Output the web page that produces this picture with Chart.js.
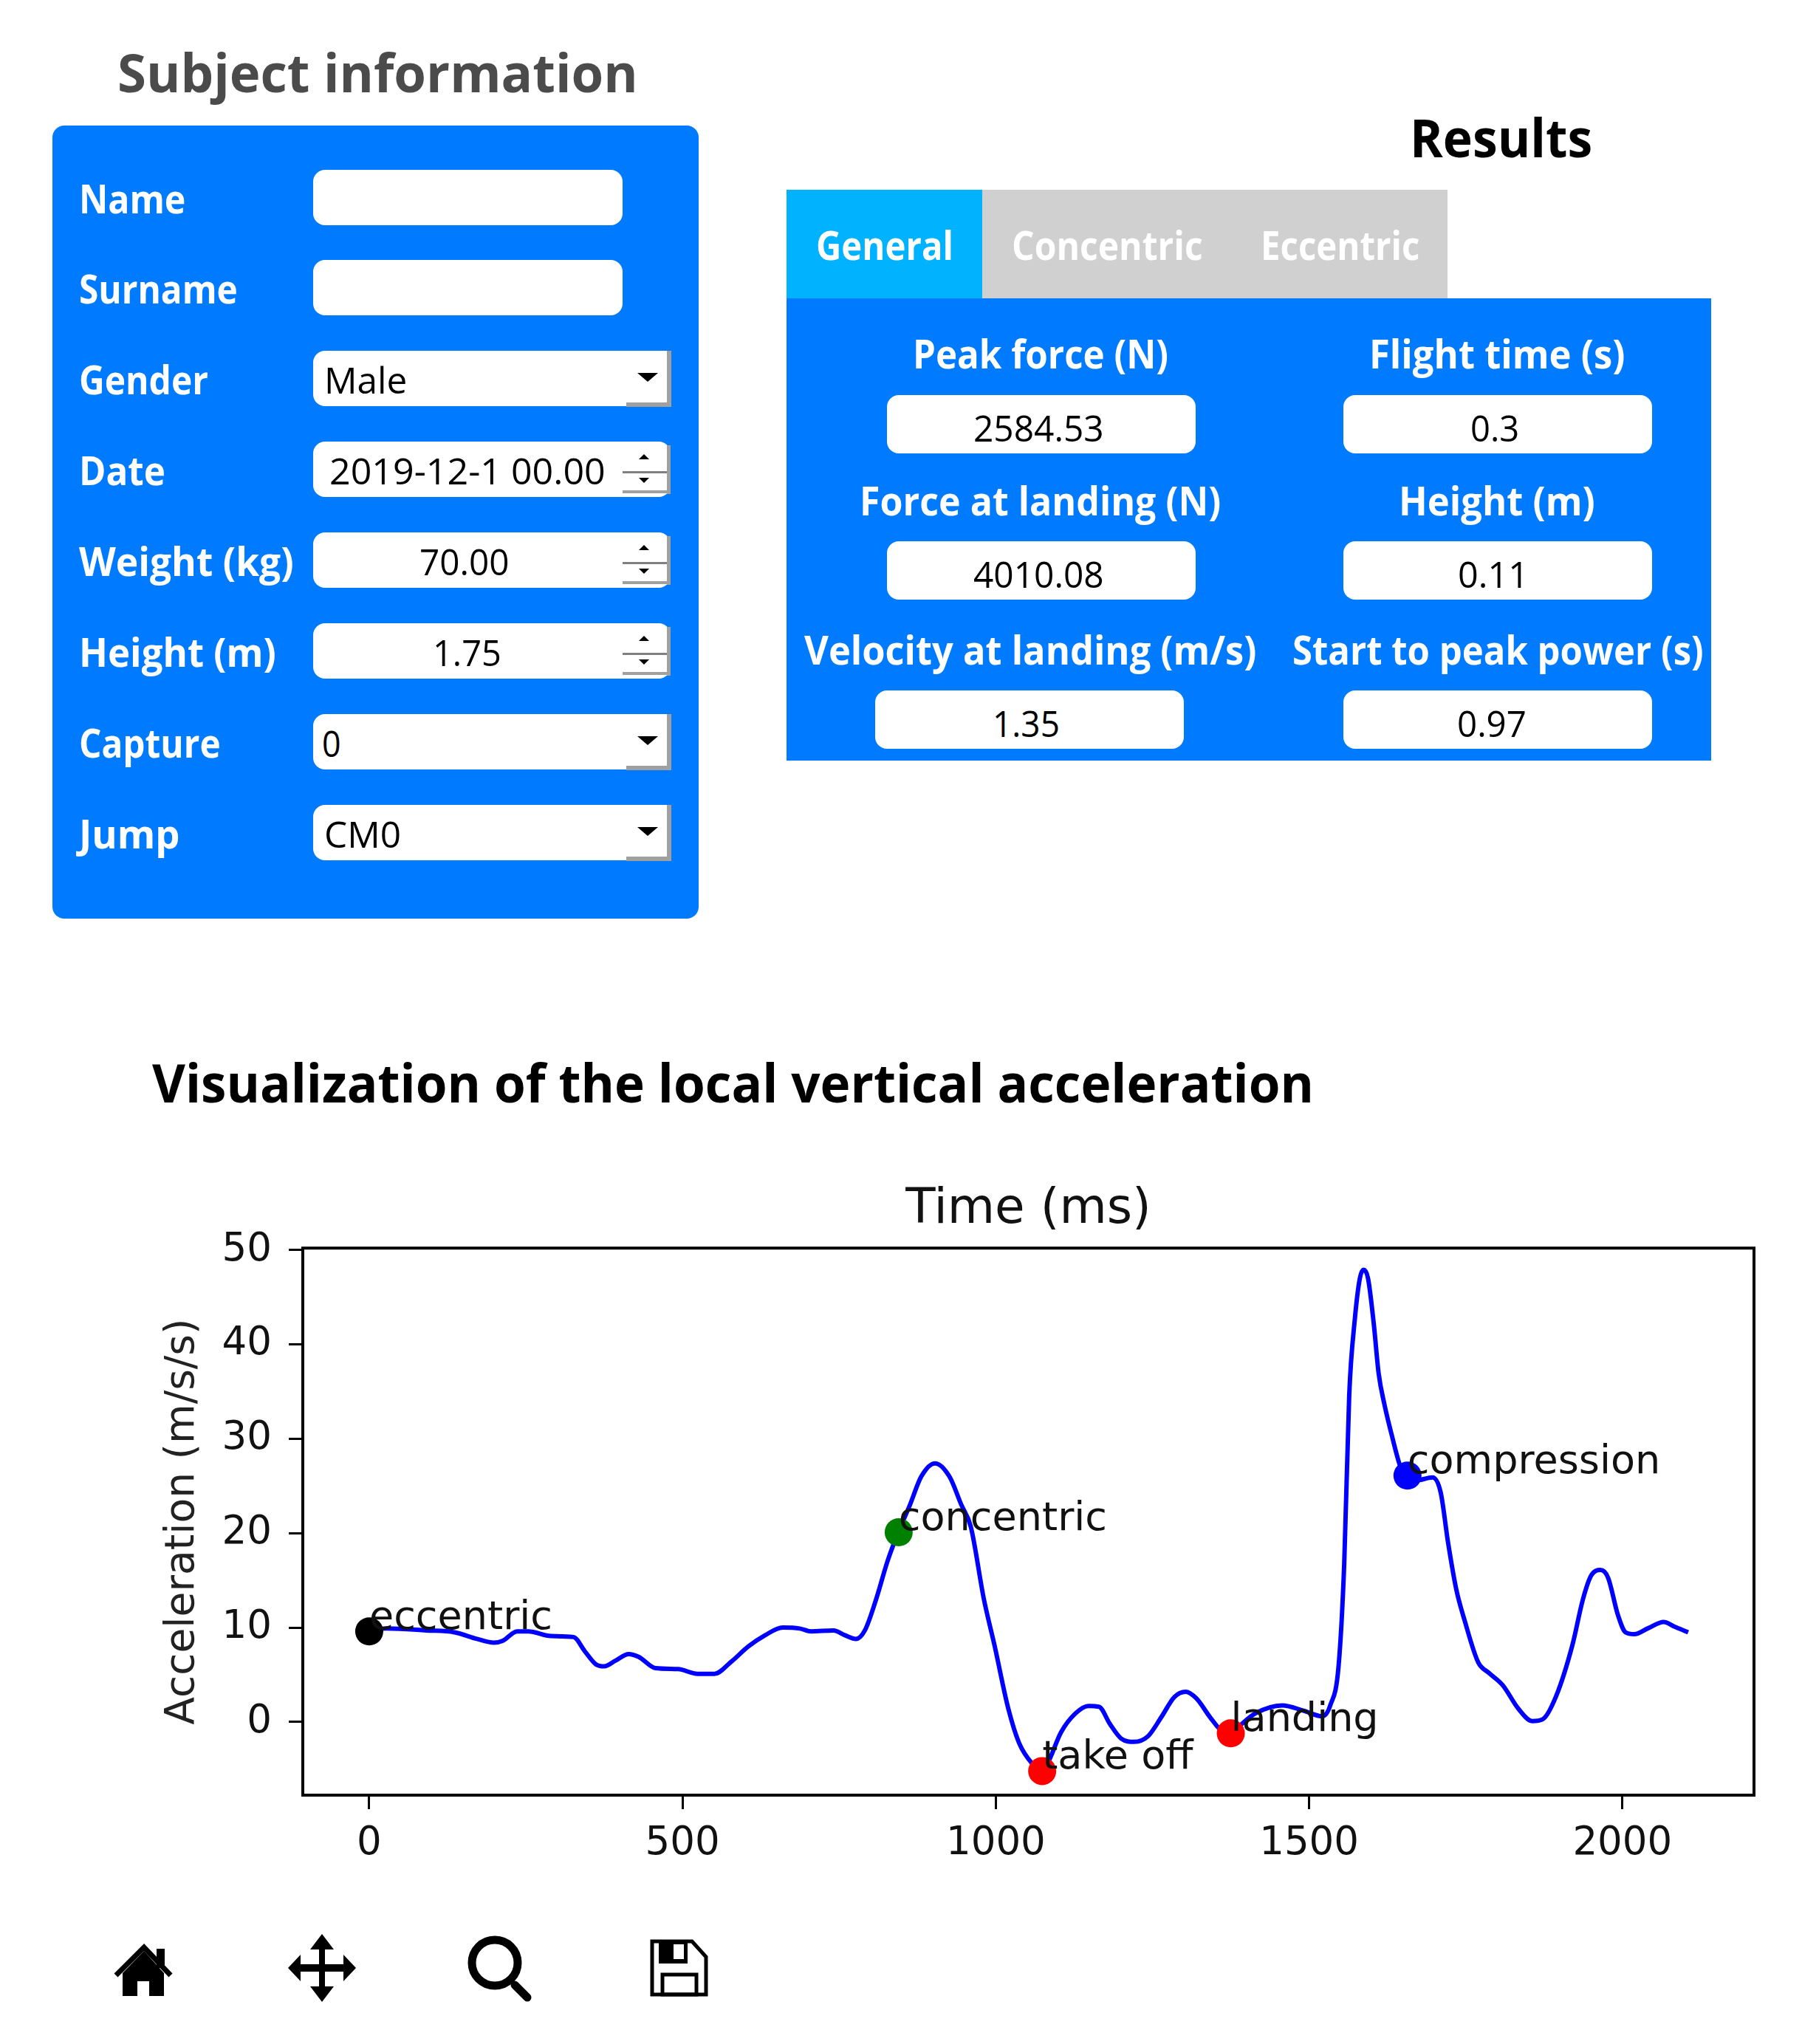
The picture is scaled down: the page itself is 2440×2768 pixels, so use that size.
<!DOCTYPE html>
<html>
<head>
<meta charset="utf-8">
<script src="https://cdn.jsdelivr.net/npm/chart.js@4/dist/chart.umd.min.js"></script>
<style>
  html, body { margin: 0; padding: 0; background: #fff; }
  #page { position: relative; width: 2440px; height: 2768px; overflow: hidden; }
  #deco { position: absolute; left: 0; top: 0; }
  #chartCanvas { position: absolute; left: 0; top: 1500px; }
  .txt { position: absolute; white-space: nowrap; line-height: 1; transform-origin: 0 50%; font-family: "Open Sans", sans-serif; }
</style>
</head>
<body>
<div id="page">
  <svg id="deco" width="2440" height="2768" viewBox="0 0 2440 2768"></svg>
  <canvas id="chartCanvas" width="2440" height="1080"></canvas>
</div>
<script>
// data
const time = [0, 28, 91, 136, 172, 199, 213, 236, 254, 290, 326, 344, 362, 375, 393, 414, 430, 457, 493, 524, 551, 578, 605, 632, 660, 687, 705, 741, 759, 777, 791, 809, 827, 845, 863, 881, 903, 926, 945, 960, 981, 998, 1020, 1037, 1058, 1074, 1084, 1104, 1127, 1148, 1165, 1182, 1200, 1221, 1243, 1264, 1285, 1303, 1320, 1342, 1359, 1375, 1389, 1414, 1457, 1491, 1521, 1534, 1547, 1556, 1564, 1573, 1581, 1587, 1594, 1603, 1611, 1620, 1633, 1646, 1657, 1671, 1697, 1710, 1722, 1735, 1748, 1770, 1787, 1809, 1834, 1856, 1873, 1894, 1920, 1937, 1950, 1965, 1977, 1993, 2005, 2019, 2040, 2066, 2083, 2105];
const acceleration = [9.7, 9.9, 9.7, 9.5, 8.8, 8.4, 8.6, 9.6, 9.6, 9.1, 9.0, 7.5, 6.1, 5.9, 6.5, 7.2, 6.9, 5.7, 5.6, 5.1, 5.1, 6.4, 8.0, 9.2, 10.0, 9.9, 9.6, 9.7, 9.2, 8.8, 9.7, 13.0, 17.0, 20.2, 23.0, 26.0, 27.4, 26.0, 23.0, 20.7, 13.0, 8.1, 1.4, -2.2, -4.4, -5.2, -4.2, -1.1, 0.9, 1.7, 1.6, -0.2, -1.75, -2.1, -1.5, 0.5, 2.65, 3.2, 2.5, 0.5, -0.85, -1.2, -0.4, 0.9, 1.75, 1.2, 0.6, 1.8, 5.9, 16.7, 34.6, 42.7, 47.0, 47.9, 47.0, 42.3, 36.9, 33.7, 30.1, 27.0, 26.1, 25.6, 25.9, 24.3, 18.9, 14.0, 10.8, 6.3, 5.2, 3.9, 1.4, 0.1, 0.3, 2.7, 8.1, 13.0, 15.5, 16.1, 15.3, 11.3, 9.5, 9.3, 9.9, 10.6, 10.1, 9.5];
const eventLabels = ['eccentric', 'concentric', 'take off', 'landing', 'compression'];
const eventTimes = [0, 845, 1074, 1375, 1657];
const eventValues = [9.6, 20.1, -5.2, -1.2, 26.1];
const eventColors = ['#000000', '#008000', '#ff0000', '#ff0000', '#0000ff'];
const xTickValues = [0, 500, 1000, 1500, 2000];
const yTickValues = [0, 10, 20, 30, 40, 50];

const subjectLabels = ['Name', 'Surname', 'Gender', 'Date', 'Weight (kg)', 'Height (m)', 'Capture', 'Jump'];
const subjectValues = ['', '', 'Male', '2019-12-1 00.00', '70.00', '1.75', '0', 'CM0'];
const resultLabels = ['Peak force (N)', 'Flight time (s)', 'Force at landing (N)', 'Height (m)', 'Velocity at landing (m/s)', 'Start to peak power (s)'];
const resultValues = ['2584.53', '0.3', '4010.08', '0.11', '1.35', '0.97'];
const tabNames = ['General', 'Concentric', 'Eccentric'];

// layout of the form, in page pixels
const subjectRowY = [230, 352, 475, 598, 721, 844, 967, 1090];
const subjectLabelW = [144, 215, 175, 117, 291, 267, 192, 137];
const subjectValueX = [0, 0, 439, 446, 568, 586, 436, 439];
const subjectValueW = [0, 0, 112, 374, 122, 93, 26, 104];
const subjectKind = ['plain', 'plain', 'combo', 'spin', 'spin', 'spin', 'combo', 'combo'];
const resultLabelX = [1236, 1854, 1164, 1894, 1089, 1750];
const resultLabelW = [346, 346, 489, 266, 612, 557];
const resultLabelY = [478, 478, 677, 677, 879, 879];
const resultBoxX = [1201, 1819, 1201, 1819, 1185, 1819];
const resultBoxY = [535, 535, 733, 733, 935, 935];
const resultValueX = [1318, 1991, 1318, 1974, 1344, 1973];
const resultValueW = [177, 66, 177, 96, 91, 94];
const tabTextX = [1105, 1370, 1707];
const tabTextW = [186, 259, 215];

const page = document.getElementById('page');
const deco = document.getElementById('deco');

function shape(tag, attrs) {
    const el = document.createElementNS('http://www.w3.org/2000/svg', tag);
    Object.keys(attrs).forEach(k => el.setAttribute(k, attrs[k]));
    deco.appendChild(el);
}

function box(x, y, w, h, fill, r) {
    shape('rect', { x: x, y: y, width: w, height: h, fill: fill, rx: r || 0 });
}

// text stretched to the measured width, the reference is not uniformly scaled
function label(text, x, yCenter, width, size, weight, color) {
    const el = document.createElement('div');
    el.className = 'txt';
    el.textContent = text;
    el.style.left = x + 'px';
    el.style.top = (yCenter - size / 2) + 'px';
    el.style.fontSize = size + 'px';
    el.style.fontWeight = weight;
    el.style.color = color;
    page.appendChild(el);
    el.style.transform = 'scaleX(' + (width / el.offsetWidth) + ')';
}

function drawSubjectPanel() {
    label('Subject information', 159, 97, 705, 72, 700, '#4b4b4b');
    box(71, 170, 875, 1074, '#007bff', 16);
    subjectLabels.forEach((name, i) => {
        const y = subjectRowY[i];
        label(name, 107, y + 38, subjectLabelW[i], 54, 700, '#ffffff');
        if (subjectKind[i] === 'plain') {
            box(424, y, 419, 75, '#ffffff', 16);
            return;
        }
        box(424, y, 484, 75, '#ffffff', 16);
        label(subjectValues[i], subjectValueX[i], y + 39, subjectValueW[i], 50, 400, '#000000');
        if (subjectKind[i] === 'combo') {
            box(903, y, 6, 75, '#a0a0a0');
            box(848, y + 70, 61, 6, '#a0a0a0');
            box(860, y, 43, 70, '#ffffff');
            shape('path', { d: `M863 ${y + 30}h28l-14 12z`, fill: '#000000' });
        } else {
            box(903, y + 5, 5, 66, '#a0a0a0');
            box(843, y + 40, 60, 3, '#808080');
            box(843, y + 66, 62, 4, '#a0a0a0');
            shape('path', { d: `M865 ${y + 24}h14l-7 -7z`, fill: '#000000' });
            shape('path', { d: `M865 ${y + 49}h14l-7 7z`, fill: '#000000' });
        }
    });
}

function drawResultsPanel() {
    label('Results', 1909, 185, 247, 72, 700, '#000000');
    box(1065, 257, 265, 147, '#00b2ff');
    box(1330, 257, 630, 147, '#d0d0d0');
    box(1065, 404, 1252, 626, '#007bff');
    tabNames.forEach((name, i) => label(name, tabTextX[i], 331, tabTextW[i], 54, 700, '#ffffff'));
    resultLabels.forEach((name, i) => {
        label(name, resultLabelX[i], resultLabelY[i], resultLabelW[i], 54, 700, '#ffffff');
        box(resultBoxX[i], resultBoxY[i], 418, 79, '#ffffff', 16);
        label(resultValues[i], resultValueX[i], resultBoxY[i] + 44, resultValueW[i], 50, 400, '#000000');
    });
}

function drawToolbar() {
    // home
    shape('path', { d: 'M166 2672L195 2642L222 2672V2703H202V2683H186V2703H166Z', fill: '#000' });
    shape('path', { d: 'M157 2675L195 2637L231 2675', fill: 'none', stroke: '#000', 'stroke-width': 7 });
    box(212, 2639, 11, 26, '#000');
    // pan
    box(432, 2635, 8, 60, '#000');
    box(405, 2660, 62, 10, '#000');
    shape('path', { d: 'M436 2619L452 2640H420Z M436 2711L452 2690H420Z M390 2665L407 2647V2683Z M482 2665L465 2647V2683Z', fill: '#000' });
    // zoom
    shape('circle', { cx: 670, cy: 2658, r: 31, fill: 'none', stroke: '#000', 'stroke-width': 11 });
    shape('path', { d: 'M697 2688L714 2705', stroke: '#000', 'stroke-width': 11, 'stroke-linecap': 'round' });
    // save
    shape('path', { d: 'M883 2629H937L956 2650V2701H883Z', fill: 'none', stroke: '#000', 'stroke-width': 5 });
    box(892, 2629, 39, 30, '#000');
    box(912, 2633, 14, 20, '#fff');
    shape('rect', { x: 897, y: 2674, width: 46, height: 27, fill: 'none', stroke: '#000', 'stroke-width': 5 });
}

drawSubjectPanel();
drawResultsPanel();
drawToolbar();
label('Visualization of the local vertical acceleration', 206, 1465, 1573, 72, 700, '#000000');

const tickFont = { family: '"DejaVu Sans"', size: 53 };

const plotFrame = {
    id: 'plotFrame',
    afterDatasetsDraw(chart) {
        const { ctx, chartArea: a, scales } = chart;
        ctx.save();
        ctx.strokeStyle = '#000';
        ctx.lineWidth = 4;
        ctx.strokeRect(a.left, a.top, a.right - a.left, a.bottom - a.top);
        // event names sit on the top right of their point, as the plot annotates them
        ctx.font = '54px "DejaVu Sans"';
        ctx.fillStyle = '#111';
        ctx.textBaseline = 'alphabetic';
        eventLabels.forEach((text, i) => {
            ctx.fillText(text, scales.x.getPixelForValue(eventTimes[i]), scales.y.getPixelForValue(eventValues[i]) - 3);
        });
        ctx.restore();
    }
};

new Chart(document.getElementById('chartCanvas').getContext('2d'), {
    type: 'scatter',
    data: {
        datasets: [{
            label: 'events',
            data: eventTimes.map((t, i) => ({ x: t, y: eventValues[i] })),
            pointRadius: 19,
            pointBackgroundColor: eventColors,
            pointBorderWidth: 0,
            order: 0
        }, {
            label: 'acceleration',
            data: time.map((t, i) => ({ x: t, y: acceleration[i] })),
            showLine: true,
            borderColor: '#0000ff',
            borderWidth: 6,
            pointRadius: 0,
            cubicInterpolationMode: 'monotone',
            order: 1
        }]
    },
    options: {
        responsive: false,
        animation: false,
        devicePixelRatio: 1,
        layout: { padding: { left: 0, right: 65, top: 0, bottom: 0 } },
        plugins: {
            legend: { display: false },
            tooltip: { enabled: false },
            title: {
                display: true,
                text: 'Time (ms)',
                color: '#111',
                fullSize: false,
                font: { family: '"DejaVu Sans"', size: 66, weight: 'normal', lineHeight: 1.2 },
                padding: { top: 99, bottom: 12 }
            }
        },
        scales: {
            x: {
                type: 'linear',
                min: -106,
                max: 2210,
                afterBuildTicks: axis => { axis.ticks = xTickValues.map(v => ({ value: v })); },
                afterFit: axis => { axis.height = 149; },
                border: { display: false },
                grid: { drawOnChartArea: false, tickLength: 19, tickColor: '#000', tickWidth: 3 },
                ticks: { color: '#111', font: tickFont, padding: 15, maxRotation: 0, autoSkip: false, callback: v => String(v) }
            },
            y: {
                min: -7.75,
                max: 50.2,
                afterBuildTicks: axis => { axis.ticks = yTickValues.map(v => ({ value: v })); },
                afterFit: axis => { axis.width = 410; },
                border: { display: false },
                grid: { drawOnChartArea: false, tickLength: 19, tickColor: '#000', tickWidth: 3 },
                ticks: { color: '#111', font: tickFont, padding: 23, autoSkip: false, callback: v => String(v) },
                title: {
                    display: true,
                    text: 'Acceleration (m/s/s)',
                    color: '#222',
                    font: { family: '"DejaVu Sans"', size: 55, lineHeight: 1.2 },
                    padding: { top: 215, bottom: 0 }
                }
            }
        }
    },
    plugins: [plotFrame]
});
</script>
</body>
</html>
